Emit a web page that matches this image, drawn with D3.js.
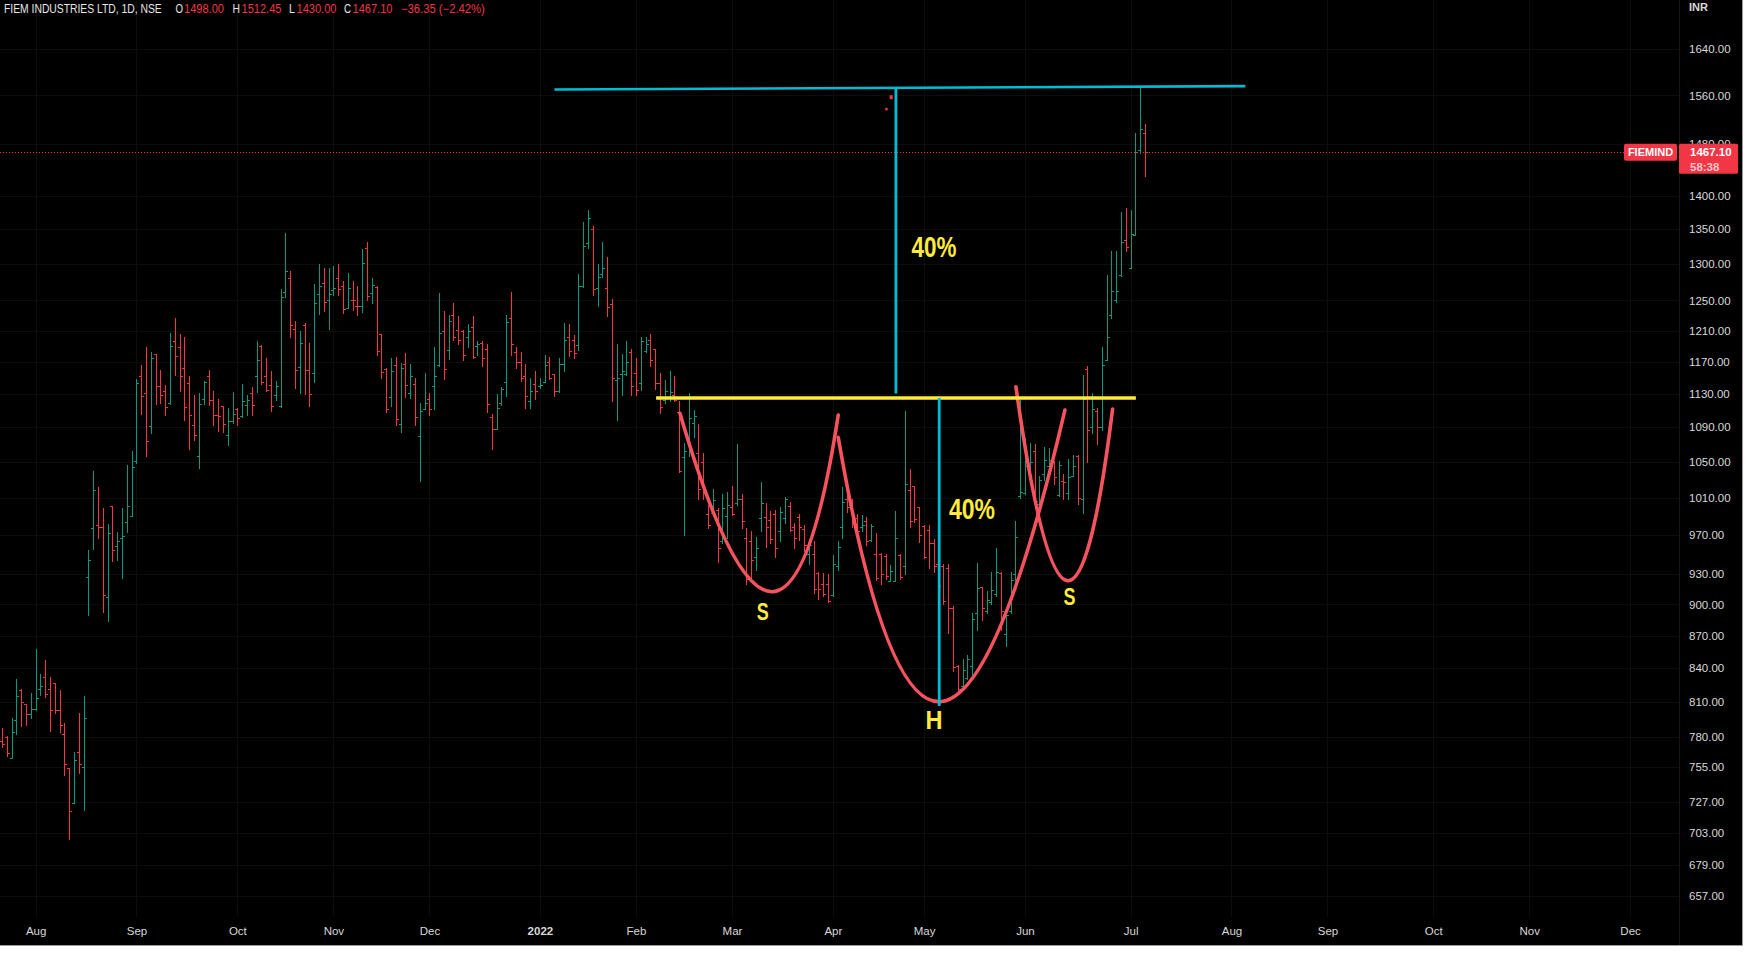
<!DOCTYPE html>
<html><head><meta charset="utf-8">
<script src="https://cdn.jsdelivr.net/npm/d3@7"></script>
<style>
html,body{margin:0;padding:0;background:#ffffff;overflow:hidden;}
svg{display:block;}
text{font-family:"Liberation Sans",Arial,sans-serif;}
</style></head><body>
<svg id="chart" width="1753" height="955"></svg>
<script>
// ---------------- DATA ----------------
const openP = [776,780,762,794,820,808,799,804,821,832,821,827,803,782,754,726,767,755,927,977,
981,978,907,1001,959,967,984,990,1051,1152,1131,1091,1180,1140,1134,1119,1197,1188,1162,1143,
1093,1057,1124,1152,1122,1104,1115,1081,1097,1112,1103,1117,1131,1152,1190,1152,1141,1128,1115,1262,
1280,1212,1163,1217,1160,1156,1259,1274,1251,1264,1281,1269,1240,1251,1243,1242,1323,1260,1268,1206,
1161,1126,1166,1094,1167,1131,1142,1080,1111,1124,1140,1166,1209,1185,1230,1211,1209,1201,1215,1190,
1194,1186,1102,1088,1119,1144,1226,1182,1170,1152,1121,1142,1139,1144,1169,1154,1133,1167,1201,1198,
1191,1269,1330,1351,1267,1286,1267,1245,1147,1155,1154,1182,1156,1143,1183,1198,1186,1143,1122,1126,
1128,1108,1055,1078,1095,1060,1050,992,993,997,964,990,1000,1004,1008,967,964,947,988,989,
986,992,974,988,1001,978,989,976,950,950,931,920,920,909,938,978,1009,1002,988,978,
985,965,950,950,948,923,923,949,938,1018,1023,1000,980,975,962,940,938,936,896,842,
824,831,842,892,917,894,902,910,931,872,894,930,1012,1015,1045,1062,1003,1036,1045,1050,
1013,1028,1015,1034,1057,1008,1161,1090,1109,1090,1172,1230,1250,1285,1335,1295,1342,1470,1498];
const highP = [787,781,796,830,821,808,818,858,835,847,832,827,820,792,754,767,800,815,954,1040,
1022,999,982,1001,973,999,1046,1062,1148,1166,1188,1182,1180,1160,1141,1207,1226,1205,1202,1152,
1128,1131,1146,1160,1134,1124,1115,1113,1132,1113,1142,1128,1138,1197,1191,1174,1158,1146,1265,1345,
1291,1222,1210,1220,1194,1272,1300,1294,1294,1297,1300,1276,1288,1277,1269,1322,1332,1281,1269,1206,
1162,1175,1176,1168,1181,1167,1150,1119,1156,1131,1188,1260,1236,1230,1246,1229,1211,1219,1229,1197,
1197,1192,1105,1130,1138,1231,1262,1189,1182,1167,1150,1158,1149,1178,1176,1154,1175,1220,1219,1204,
1286,1361,1379,1354,1300,1331,1310,1252,1192,1180,1196,1186,1175,1201,1202,1205,1186,1156,1147,1158,
1152,1121,1072,1131,1110,1094,1060,1002,1020,999,1014,1016,1023,1070,1014,977,974,968,1027,1004,
996,997,1000,1011,1005,983,992,981,965,964,932,931,930,949,964,1022,1019,1008,992,991,
989,982,972,951,950,939,996,950,1109,1042,1023,1000,981,981,966,945,940,940,898,843,
848,852,892,941,917,913,932,957,932,895,932,985,1122,1077,1072,1070,1034,1067,1066,1051,
1051,1036,1053,1058,1058,1153,1165,1131,1113,1188,1285,1319,1318,1376,1381,1378,1498,1573,1512.45];
const lowP = [771,764,762,782,789,790,796,803,816,814,785,800,784,748,698,726,750,721,890,955,
967,893,884,943,944,926,973,990,1049,1105,1056,1083,1118,1119,1104,1118,1153,1134,1098,1064,
1075,1043,1118,1116,1093,1086,1084,1069,1095,1093,1102,1104,1104,1132,1142,1134,1109,1122,1114,1255,
1202,1137,1131,1130,1115,1145,1232,1236,1212,1257,1257,1233,1240,1237,1230,1234,1250,1246,1178,1150,
1108,1115,1092,1084,1126,1125,1092,1028,1111,1104,1112,1165,1148,1173,1198,1192,1172,1188,1175,1178,
1165,1108,1064,1088,1117,1127,1178,1162,1146,1113,1113,1124,1137,1144,1148,1127,1132,1158,1177,1175,
1185,1268,1323,1257,1242,1282,1229,1121,1098,1128,1153,1128,1129,1135,1182,1165,1136,1107,1119,1121,
1121,1038,970,1056,1078,1008,1009,977,992,942,962,967,991,1002,977,920,926,934,974,958,
962,947,964,983,974,957,965,953,940,911,905,908,902,908,934,967,995,979,970,974,
960,964,924,920,925,923,923,925,930,978,984,963,946,936,932,912,900,873,837,817,
821,830,833,875,885,892,900,908,875,860,892,920,1010,1014,1030,1003,985,1029,1040,1025,
1012,1009,1009,1034,1003,993,1050,1083,1070,1087,1172,1227,1248,1283,1318,1294,1342,1466,1430];
const closeP = [774,766,784,815,810,799,804,813,824,817,803,803,790,757,720,761,757,796,944,1018,
978,909,972,954,964,969,1001,1044,1143,1127,1074,1175,1140,1129,1114,1190,1177,1152,1114,1104,
1081,1118,1145,1122,1104,1103,1094,1097,1105,1101,1121,1122,1117,1172,1145,1135,1115,1140,1255,1290,
1217,1159,1194,1160,1130,1246,1270,1248,1259,1267,1266,1239,1267,1250,1242,1302,1256,1271,1183,1157,
1112,1158,1100,1162,1141,1152,1102,1109,1119,1112,1152,1207,1161,1222,1202,1198,1178,1209,1176,1192,
1175,1118,1088,1113,1136,1221,1192,1169,1150,1127,1133,1133,1141,1166,1149,1134,1167,1198,1184,1181,
1269,1326,1367,1266,1282,1294,1241,1149,1150,1158,1170,1140,1135,1196,1193,1172,1143,1114,1133,1132,
1122,1039,1062,1101,1103,1020,1015,981,1007,957,999,1002,992,1008,985,925,944,957,1004,979,
966,956,995,1008,975,967,978,960,960,915,915,910,903,940,958,1005,1000,983,974,981,
964,980,926,930,928,933,967,927,1025,985,987,970,947,962,938,918,903,896,841,821,
838,848,886,916,896,904,914,932,894,890,924,968,1016,1045,1050,1006,1029,1052,1052,1033,
1046,1027,1033,1045,1010,1124,1087,1112,1090,1166,1201,1263,1263,1332,1325,1343,1468,1505,1467.10];

const priceTicks = [1640,1560,1480,1400,1350,1300,1250,1210,1170,1130,1090,1050,1010,970,930,900,870,840,810,780,755,727,703,679,657];
const monthLabels = ["Aug","Sep","Oct","Nov","Dec","2022","Feb","Mar","Apr","May","Jun","Jul","Aug","Sep","Oct","Nov","Dec"];
const monthStartIndex = [7,28,49,69,89,112,132,152,173,192,213,235,256,276,298,318,339];

// drawings, in [bar index, price]
const leftShoulder = [[141.16,1106.4],[162.87,753.1],[174.12,1104.4]];
const headCurve = [[174.12,1078.1],[193.58,600.1],[221.32,1110.3]];
const rightShoulder = [[211.12,1138.5],[222.16,758.1],[231.25,1111.5]];
const targetLine = [[115.03,1570.2],[258.9,1575.8]];
const necklineLine = [[136.2,1124.9],[236.1,1124.9]];
const measureUp = [[186.13,1572.9],[186.13,1130.3]];
const measureDown = [[195.15,1124.9],[195.15,806.3]];
const redDots = [[185.15,1557],[184.15,1537.3]];
const labelTexts = ["40%","40%","S","H","S"];
const labelAt = [[194.05,1325.7],[201.96,998.2],[158.4,892.6],[194.05,794.2],[222.3,907.6]];

const symbol = "FIEMIND";
const title = "FIEM INDUSTRIES LTD, 1D, NSE";
const lastClose = 1467.10, change = -36.35, changePct = -2.42;
const countdown = "58:38";

// ---------------- CHART ----------------
const W = 1753, H = 955;
const chartW = 1742, chartH = 945, plotR = 1679, plotB = 917;
const UP = "#089981", DOWN = "#f23645", CYAN = "#00bcd4", YELLOW = "#ffeb3b", BRUSH = "#f7525f";
const svg = d3.select("#chart");
svg.append("rect").attr("width", W).attr("height", H).attr("fill", "#ffffff");
svg.append("rect").attr("width", chartW).attr("height", chartH).attr("fill", "#000000");
svg.append("line").attr("x1", chartW + 0.5).attr("x2", chartW + 0.5).attr("y1", 0).attr("y2", chartH + 1).attr("stroke", "#9a9a9a");
svg.append("line").attr("x1", 0).attr("x2", chartW + 1).attr("y1", chartH + 0.5).attr("y2", chartH + 0.5).attr("stroke", "#9a9a9a");

const n = closeP.length;
const x = d3.scaleLinear().domain([0, n - 1]).range([2, 1145]);
const y = d3.scaleLog().domain([657, 1640]).range([895.5, 49.2]);

// grid
const grid = svg.append("g").attr("shape-rendering", "crispEdges");
grid.selectAll("line.h").data(priceTicks).join("line").attr("class", "h")
  .attr("x1", 0).attr("x2", plotR).attr("y1", d => Math.round(y(d)) + 0.5).attr("y2", d => Math.round(y(d)) + 0.5)
  .attr("stroke", "#0d0d0d");
grid.selectAll("line.v").data(monthStartIndex).join("line").attr("class", "v")
  .attr("y1", 0).attr("y2", plotB).attr("x1", d => Math.round(x(d)) + 0.5).attr("x2", d => Math.round(x(d)) + 0.5)
  .attr("stroke", "#0d0d0d");
grid.append("line").attr("x1", plotR + 0.5).attr("x2", plotR + 0.5).attr("y1", 0).attr("y2", chartH).attr("stroke", "#161616");

// axes
const yAxis = svg.append("g").attr("transform", `translate(1689,0)`)
  .call(d3.axisRight(y).tickValues(priceTicks).tickFormat(d => d.toFixed(2)).tickSize(0).tickPadding(0));
yAxis.select(".domain").remove();
yAxis.selectAll("text").attr("fill", "#d8d8d8").style("font-size", "11.5px").style("font-family", '"Liberation Sans",Arial,sans-serif');

const xAxis = svg.append("g").attr("transform", `translate(0,927)`)
  .call(d3.axisBottom(x).tickValues(monthStartIndex).tickFormat((d, i) => monthLabels[i]).tickSize(0).tickPadding(0));
xAxis.select(".domain").remove();
xAxis.selectAll("text").attr("fill", "#d8d8d8").style("font-size", "11.5px").style("font-family", '"Liberation Sans",Arial,sans-serif')
  .style("font-weight", d => monthLabels[monthStartIndex.indexOf(d)] === "2022" ? "bold" : "normal");

svg.append("text").attr("x", 1689).attr("y", 11).attr("fill", "#d8d8d8").style("font-size", "11px").style("font-weight", "bold").text("INR");

// bars
const bars = svg.append("g").attr("shape-rendering", "crispEdges").attr("fill", "none").attr("stroke-width", 1);
bars.selectAll("path").data(d3.range(n)).join("path")
  .attr("stroke", i => closeP[i] >= openP[i] ? UP : DOWN)
  .attr("d", i => {
    const xi = Math.round(x(i)) + 0.5;
    const hi = Math.max(highP[i], openP[i], closeP[i]);
    const lo = Math.min(lowP[i], openP[i], closeP[i]);
    const yo = Math.round(y(openP[i])) + 0.5, yc = Math.round(y(closeP[i])) + 0.5;
    return `M${xi},${Math.round(y(hi))}V${Math.round(y(lo)) + 1}M${xi - 2.5},${yo}H${xi}M${xi},${yc}H${xi + 2.5}`;
  });

// current price dotted line
const yLast = y(lastClose);
svg.append("line").attr("x1", 0).attr("x2", 1624).attr("y1", Math.round(yLast) + 0.5).attr("y2", Math.round(yLast) + 0.5)
  .attr("stroke", DOWN).attr("stroke-dasharray", "1,2");

// drawings
const pt = d => [x(d[0]), y(d[1])];
const draw = svg.append("g").attr("fill", "none").attr("stroke-linecap", "butt");
function seg(arr, color, w) {
  const a = pt(arr[0]), b = pt(arr[1]);
  draw.append("line").attr("x1", a[0]).attr("y1", a[1]).attr("x2", b[0]).attr("y2", b[1]).attr("stroke", color).attr("stroke-width", w);
}
function curve(arr) {
  const [a, c, b] = arr.map(pt);
  draw.append("path").attr("d", `M${a[0]},${a[1]}Q${c[0]},${c[1]} ${b[0]},${b[1]}`)
    .attr("stroke", BRUSH).attr("stroke-width", 3.6).attr("stroke-linecap", "round");
}
curve(leftShoulder);
curve(headCurve);
curve(rightShoulder);
seg(necklineLine, YELLOW, 3.5);
seg(targetLine, CYAN, 2.6);
seg(measureUp, CYAN, 2.8);
seg(measureDown, CYAN, 2.8);
svg.selectAll("rect.dot").data(redDots).join("rect").attr("class", "dot")
  .attr("x", (d, i) => x(d[0]) - (i ? 1.2 : 1.5)).attr("y", (d, i) => y(d[1]) - (i ? 1.2 : 2))
  .attr("width", (d, i) => i ? 2.5 : 3).attr("height", (d, i) => i ? 2.5 : 4).attr("fill", DOWN);

// helper: squeeze a text horizontally to a target width (keeps its real box in sync)
function fitWidth(sel, x0, w) {
  const nat = sel.node().getComputedTextLength();
  const k = Math.min(1, w / nat);
  sel.attr("x", 0).attr("transform", `translate(${x0},0) scale(${k},1)`);
}

// text labels
const lblSize = [30, 30, 23, 26, 23];
const lblWidth = [45, 46, 12, 17, 12];
labelTexts.forEach((d, i) => {
  const t = svg.append("text").attr("class", "lbl")
    .attr("y", y(labelAt[i][1]) + lblSize[i] * 0.36)
    .style("font-size", lblSize[i] + "px").style("font-weight", "bold")
    .attr("fill", YELLOW).text(d);
  fitWidth(t, x(labelAt[i][0]) - lblWidth[i] / 2, lblWidth[i]);
});

// last price tags
svg.append("rect").attr("x", 1624).attr("y", yLast - 8.5).attr("width", 53).attr("height", 17).attr("rx", 2).attr("fill", DOWN);
svg.append("text").attr("x", 1650.5).attr("y", yLast + 4).attr("text-anchor", "middle").attr("fill", "#ffffff")
  .style("font-size", "11px").style("font-weight", "bold").text(symbol);
svg.append("rect").attr("x", 1679).attr("y", yLast - 8.5).attr("width", 59).attr("height", 30).attr("rx", 1.5).attr("fill", DOWN);
svg.append("text").attr("x", 1690).attr("y", yLast + 4.2).attr("fill", "#ffffff")
  .style("font-size", "11.5px").style("font-weight", "bold").text(lastClose.toFixed(2));
svg.append("text").attr("x", 1690).attr("y", yLast + 18.5).attr("fill", "#ffffff").attr("fill-opacity", 0.72)
  .style("font-size", "11.5px").style("font-weight", "bold").text(countdown);

// legend header
const fmt = v => v.toFixed(2);
const minus = v => (v < 0 ? "\u2212" : "+") + Math.abs(v).toFixed(2);
const hdr = svg.append("g").style("font-size", "12px");
const hdrParts = [
  {t: title, x: 4, w: 158, c: "#e6e6e6"},
  {t: "O", x: 175.5, w: 7.5, c: "#e6e6e6"}, {t: fmt(openP[n - 1]), x: 184, w: 40, c: DOWN},
  {t: "H", x: 232.5, w: 7.5, c: "#e6e6e6"}, {t: fmt(highP[n - 1]), x: 241.5, w: 40, c: DOWN},
  {t: "L", x: 289, w: 6, c: "#e6e6e6"}, {t: fmt(lowP[n - 1]), x: 296.5, w: 40, c: DOWN},
  {t: "C", x: 344, w: 7, c: "#e6e6e6"}, {t: fmt(closeP[n - 1]), x: 352.5, w: 40, c: DOWN},
  {t: minus(change) + " (" + minus(changePct) + "%)", x: 401, w: 84, c: DOWN}
];
hdrParts.forEach(p => {
  const t = hdr.append("text").attr("y", 13.3).attr("fill", p.c).text(p.t);
  fitWidth(t, p.x, p.w);
});
</script>
</body></html>
